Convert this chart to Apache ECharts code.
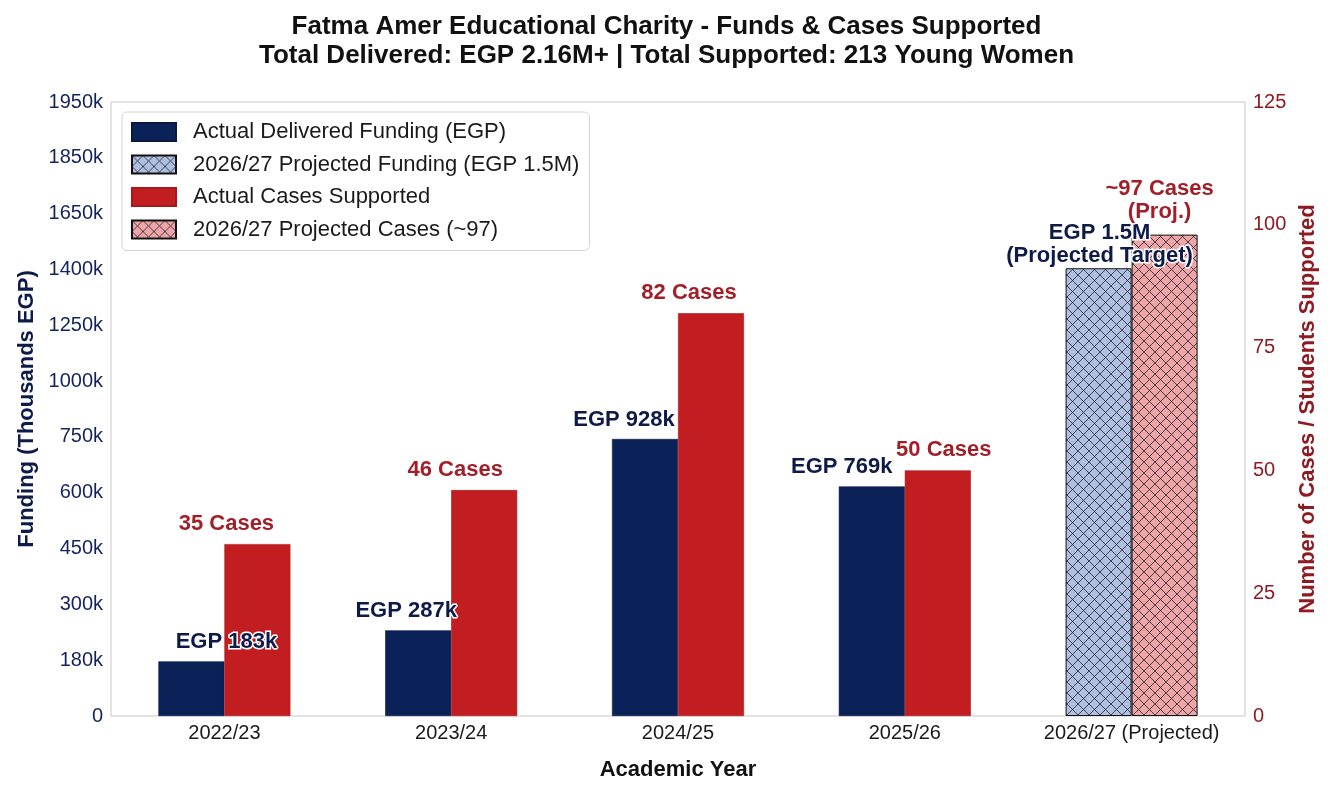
<!DOCTYPE html>
<html>
<head>
<meta charset="utf-8">
<script src="https://cdn.jsdelivr.net/npm/echarts@6/dist/echarts.min.js"></script>
<style>html,body{margin:0;padding:0;background:#fff}#main{width:1333px;height:800px}</style>
</head>
<body>
<div id="main"></div>
<script>
var years = ['2022/23', '2023/24', '2024/25', '2025/26', '2026/27 (Projected)'];
// funding in thousands EGP
var funding = [183, 287, 928, 769, '-'];
var fundingProj = ['-', '-', '-', '-', 1500];
var cases = [35, 46, 82, 50, '-'];
var casesProj = ['-', '-', '-', '-', 98];
var fundTicks = ['0', '180k', '300k', '450k', '600k', '750k', '1000k', '1250k', '1400k', '1650k', '1850k', '1950k'];
var fundLabels = ['EGP 183k', 'EGP 287k', 'EGP 928k', 'EGP 769k', 'EGP 1.5M\n(Projected Target)'];
var caseLabels = ['35 Cases', '46 Cases', '82 Cases', '50 Cases', '~97 Cases\n(Proj.)'];

var FONT = 'Liberation Sans';
var NAVY = '#0b2259', RED = '#c21e21';
var NAVY_TXT = '#0e1a48', RED_TXT = '#a11f28';

// label nudges so the texts sit like in the original
var fundShift = [35, -12, -21, -30, 1];
var caseShift = [-31, -29, -22, 6, -5];

function hatch(bg) {
  var s = 11, c = document.createElement('canvas');
  c.width = s; c.height = s;
  var g = c.getContext('2d');
  g.fillStyle = bg; g.fillRect(0, 0, s, s);
  g.strokeStyle = 'rgba(25,25,35,0.75)'; g.lineWidth = 1;
  g.beginPath();
  g.moveTo(-1, -1); g.lineTo(s + 1, s + 1);
  g.moveTo(s + 1, -1); g.lineTo(-1, s + 1);
  g.stroke();
  return c;
}

function items(vals, shift) {
  return vals.map(function (v, i) {
    return {value: v, label: {offset: [shift[i], 0]}};
  });
}

function lbl(color, texts, dist) {
  return {
    show: true, position: 'top', distance: dist,
    fontFamily: FONT, fontSize: 22, fontWeight: 'bold', color: color,
    lineHeight: 23, align: 'center',
    textBorderColor: '#fff', textBorderWidth: 3,
    formatter: function (p) { return texts[p.dataIndex]; }
  };
}

var chart = echarts.init(document.getElementById('main'));
chart.setOption({
  animation: false,
  backgroundColor: '#fff',
  title: {
    text: 'Fatma Amer Educational Charity - Funds & Cases Supported\nTotal Delivered: EGP 2.16M+ | Total Supported: 213 Young Women',
    left: 'center', top: 12, padding: [0, 0, 0, 20],
    textStyle: {fontFamily: FONT, fontSize: 26, fontWeight: 'bold', color: '#111', lineHeight: 29}
  },
  legend: {
    orient: 'vertical', left: 122, top: 112, icon: 'rect',
    padding: [9, 10, 10, 9], itemWidth: 44, itemHeight: 18, itemGap: 10.5,
    backgroundColor: '#fff', borderColor: '#d4d4d4', borderWidth: 1, borderRadius: 5,
    textStyle: {fontFamily: FONT, fontSize: 22, color: '#1a1a1a', padding: [0, 0, 0, 12], lineHeight: 18},
    data: ['Actual Delivered Funding (EGP)', '2026/27 Projected Funding (EGP 1.5M)',
           'Actual Cases Supported', '2026/27 Projected Cases (~97)']
  },
  grid: {left: 111, right: 88, top: 102, bottom: 84, show: true, borderColor: '#c8c8c8', borderWidth: 1},
  xAxis: {
    type: 'category', data: years,
    name: 'Academic Year', nameLocation: 'middle', nameGap: 43,
    nameTextStyle: {fontFamily: FONT, fontSize: 22, fontWeight: 'bold', color: '#111'},
    axisLine: {show: false}, axisTick: {show: false},
    axisLabel: {fontFamily: FONT, fontSize: 20, color: '#1a1a1a', margin: 7, interval: 0}
  },
  yAxis: [{
    type: 'value', min: 0, max: 2057, interval: 187,
    name: 'Funding (Thousands EGP)', nameLocation: 'middle', nameGap: 72, nameRotate: 90,
    nameTextStyle: {fontFamily: FONT, fontSize: 22, fontWeight: 'bold', color: NAVY_TXT},
    axisLine: {show: false}, axisTick: {show: false}, splitLine: {show: false},
    axisLabel: {fontFamily: FONT, fontSize: 20, color: '#14245a', margin: 8,
      formatter: function (v, i) { return fundTicks[i]; }}
  }, {
    type: 'value', min: 0, max: 125, interval: 25, position: 'right',
    name: 'Number of Cases / Students Supported', nameLocation: 'middle', nameGap: 46, nameRotate: 90,
    nameTextStyle: {fontFamily: FONT, fontSize: 22, fontWeight: 'bold', color: '#8e1a22'},
    axisLine: {show: false}, axisTick: {show: false}, splitLine: {show: false},
    axisLabel: {fontFamily: FONT, fontSize: 20, color: '#8e1a22', margin: 8}
  }],
  series: [{
    name: 'Actual Delivered Funding (EGP)', type: 'bar', yAxisIndex: 0, stack: 'fund',
    barWidth: 66, barGap: '0%',
    itemStyle: {color: NAVY, borderColor: '#08183f', borderWidth: 0.6},
    label: lbl(NAVY_TXT, fundLabels, 8),
    data: items(funding, fundShift)
  }, {
    name: 'Actual Cases Supported', type: 'bar', yAxisIndex: 1, stack: 'cases',
    barWidth: 66, barGap: '0%',
    itemStyle: {color: RED, borderColor: '#a8181b', borderWidth: 0.6},
    label: lbl(RED_TXT, caseLabels, 9),
    data: items(cases, caseShift)
  }, {
    name: '2026/27 Projected Funding (EGP 1.5M)', type: 'bar', yAxisIndex: 0, stack: 'fund',
    barWidth: 66, barGap: '0%',
    itemStyle: {color: {image: hatch('#aebfe2'), repeat: 'repeat'}, borderColor: '#111', borderWidth: 1},
    label: lbl(NAVY_TXT, fundLabels, 1),
    data: items(fundingProj, fundShift)
  }, {
    name: '2026/27 Projected Cases (~97)', type: 'bar', yAxisIndex: 1, stack: 'cases',
    barWidth: 66, barGap: '0%',
    itemStyle: {color: {image: hatch('#eea5a7'), repeat: 'repeat'}, borderColor: '#111', borderWidth: 1},
    label: lbl(RED_TXT, caseLabels, 11),
    data: items(casesProj, caseShift)
  }]
});
</script>
</body>
</html>
